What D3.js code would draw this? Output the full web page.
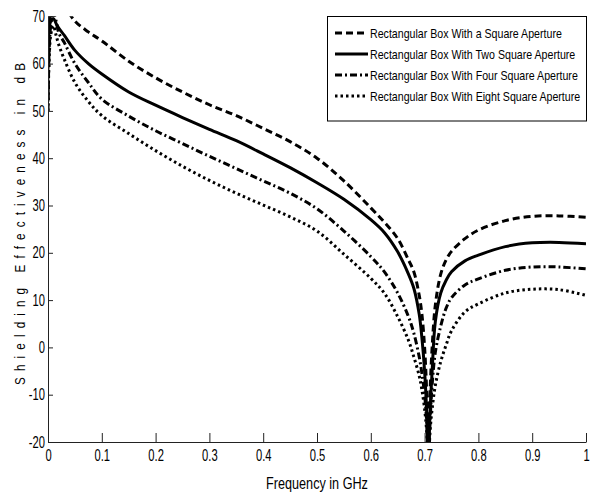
<!DOCTYPE html>
<html>
<head>
<meta charset="utf-8">
<script src="https://cdn.jsdelivr.net/npm/d3@7"></script>
<style>
  html, body { margin: 0; padding: 0; background: #fff; }
  svg { display: block; font-family: "Liberation Sans", Arial, sans-serif; }
</style>
</head>
<body>
<div id="chart"></div>
<script>
// frequency grid in GHz (denser around the resonance near 0.707 GHz)
const frequency = [0, 0.005, 0.01, 0.015, 0.02, 0.03, 0.05, 0.075, 0.1, 0.15, 0.2, 0.25, 0.3, 0.35, 0.4, 0.45, 0.5, 0.55, 0.6, 0.625, 0.65, 0.67, 0.68, 0.69, 0.695, 0.7, 0.704, 0.707, 0.71, 0.714, 0.72, 0.73, 0.74, 0.75, 0.775, 0.8, 0.85, 0.9, 0.95, 1.0]

// shielding effectiveness in dB
const seOneAperture = [50, 72, 76, 76, 75, 72.5, 69, 66.7, 64.8, 60.5, 57, 54, 51.3, 49, 46.3, 43.5, 40, 35.2, 29.5, 26.5, 23, 18.5, 16, 11, 7, 0, -10, -25, -10, 0, 9, 15.5, 18.5, 20.3, 23, 24.8, 26.8, 27.7, 27.8, 27.5]
const seTwoApertures = [52, 69, 69.5, 68.5, 67.5, 66, 62.8, 60, 57.8, 54, 51.2, 48.6, 46.1, 43.7, 40.9, 38, 34.8, 31.3, 27, 24.3, 20.2, 15.5, 12.5, 7, 2, -5, -14, -25, -14, -5, 5.5, 11.5, 14.2, 16, 18.3, 19.5, 21.3, 22.1, 22.2, 21.9]
const seFourApertures = [54, 68, 70.5, 69, 66.5, 64.5, 60, 56, 52.5, 48.9, 45.8, 43.1, 40.4, 37.8, 35.2, 32.6, 29.3, 24.6, 19.2, 16, 11.5, 6.5, 3, -2, -5.5, -10, -16, -25, -16, -8, -1, 4.5, 8.3, 10.5, 13.2, 14.5, 16.3, 17, 17, 16.6]
const seEightApertures = [50, 66, 68, 66, 64, 61, 56, 52, 49, 45.2, 41.6, 38.3, 35.3, 32.6, 30.1, 27.6, 24.6, 19.7, 14.6, 11.5, 6.5, 1.5, -2, -6, -9, -13, -18, -25, -18, -13, -8, -3, 0.5, 3.5, 7.5, 9.2, 11.5, 12.3, 12.2, 11]

const seriesNames = [
  "Rectangular Box With a Square Aperture",
  "Rectangular Box With Two Square Aperture",
  "Rectangular Box With Four Square Aperture",
  "Rectangular Box With Eight Square Aperture"
]
const xTickLabels = ["0", "0.1", "0.2", "0.3", "0.4", "0.5", "0.6", "0.7", "0.8", "0.9", "1"]
const yTickLabels = ["-20", "-10", "0", "10", "20", "30", "40", "50", "60", "70"]

const config = {
  width: 596,
  height: 495,
  margin: {top: 16.3, right: 10, bottom: 53, left: 48},
  lineWidth: 3,
  dashes: ["7,4", null, "7,3,2,3", "2.5,3"],
  axisColor: "#222"
}

const values = [seOneAperture, seTwoApertures, seFourApertures, seEightApertures]

const svg = d3.select("#chart").append("svg")
    .attr("width", config.width)
    .attr("height", config.height)

const x = d3.scaleLinear()
    .domain([0, 1])
    .range([config.margin.left, config.width - config.margin.right])

const y = d3.scaleLinear()
    .domain([-20, 70])
    .range([config.height - config.margin.bottom, config.margin.top])

// squeeze text horizontally to mimic the narrow MATLAB font
function narrow (selection, k) {
  selection.each(function () {
    const t = d3.select(this)
    const x0 = +t.attr("x") || 0
    t.attr("x", x0 / k).attr("transform", `scale(${k},1)`)
  })
}

function drawAxes () {
  const xAxis = svg.append("g")
      .attr("transform", `translate(0,${y(-20)})`)
      .call(d3.axisBottom(x)
        .tickValues(xTickLabels.map(Number))
        .tickFormat((d, i) => xTickLabels[i])
        .tickSize(-9)
        .tickSizeOuter(0)
        .tickPadding(8))

  const yAxis = svg.append("g")
      .attr("transform", `translate(${x(0)},0)`)
      .call(d3.axisLeft(y)
        .tickValues(yTickLabels.map(Number))
        .tickFormat((d, i) => yTickLabels[i])
        .tickSize(-5)
        .tickSizeOuter(0)
        .tickPadding(3))

  ;[xAxis, yAxis].forEach((axis) => {
    axis.select(".domain").attr("stroke", config.axisColor)
    axis.selectAll(".tick line").attr("stroke", config.axisColor)
    axis.selectAll("text")
        .attr("fill", "#000")
        .style("font-size", "16px")
        .call(narrow, 0.7)
  })
}

function drawLines () {
  svg.append("clipPath")
      .attr("id", "plot-clip")
    .append("rect")
      .attr("x", x(0))
      .attr("y", y(70))
      .attr("width", x(1) - x(0))
      .attr("height", y(-20) - y(70))

  const line = d3.line()
      .x((d) => x(d[0]))
      .y((d) => y(d[1]))
      .curve(d3.curveCatmullRom.alpha(0.5))

  svg.append("g")
      .attr("clip-path", "url(#plot-clip)")
    .selectAll("path")
    .data(values)
    .join("path")
      .attr("d", (d) => line(d.map((v, i) => [frequency[i], v])))
      .attr("fill", "none")
      .attr("stroke", "#000")
      .attr("stroke-width", config.lineWidth)
      .attr("stroke-dasharray", (d, i) => config.dashes[i])
}

function drawLegend () {
  const box = {x: 327.5, y: 16.5, width: 259, height: 104.5}
  const rowY = [33, 54, 75, 96]
  const legend = svg.append("g").attr("class", "legend")

  legend.append("rect")
      .attr("x", box.x)
      .attr("y", box.y)
      .attr("width", box.width)
      .attr("height", box.height)
      .attr("fill", "#fff")
      .attr("stroke", "#000")

  const rows = legend.selectAll(".legend-row")
    .data(seriesNames)
    .join("g")
      .attr("class", "legend-row")
      .attr("transform", (d, i) => `translate(0,${rowY[i]})`)

  rows.append("line")
      .attr("x1", 335)
      .attr("x2", 368)
      .attr("stroke", "#000")
      .attr("stroke-width", config.lineWidth)
      .attr("stroke-dasharray", (d, i) => config.dashes[i])

  const labels = rows.append("text")
      .attr("x", 370)
      .attr("dy", "0.36em")
      .style("font-size", "12.5px")
      .text((d) => d)

  const k = 192 / labels.node().getComputedTextLength()
  labels.call(narrow, k)
}

function drawTitles () {
  const xLabel = svg.append("text")
      .attr("x", (x(0) + x(1)) / 2)
      .attr("y", 489)
      .attr("text-anchor", "middle")
      .style("font-size", "16px")
      .text("Frequency in GHz")
  const kx = 102 / xLabel.node().getComputedTextLength()
  xLabel.call(narrow, kx)

  svg.append("g")
      .attr("transform", "translate(25,224) rotate(-90)")
    .append("text")
      .attr("text-anchor", "middle")
      .attr("transform", "scale(0.75,1)")
      .attr("textLength", 322 / 0.75)
      .attr("lengthAdjust", "spacing")
      .style("font-size", "15.5px")
      .text("Shielding Effectiveness in dB")
}

drawLines()
drawAxes()
drawLegend()
drawTitles()
</script>
</body>
</html>
